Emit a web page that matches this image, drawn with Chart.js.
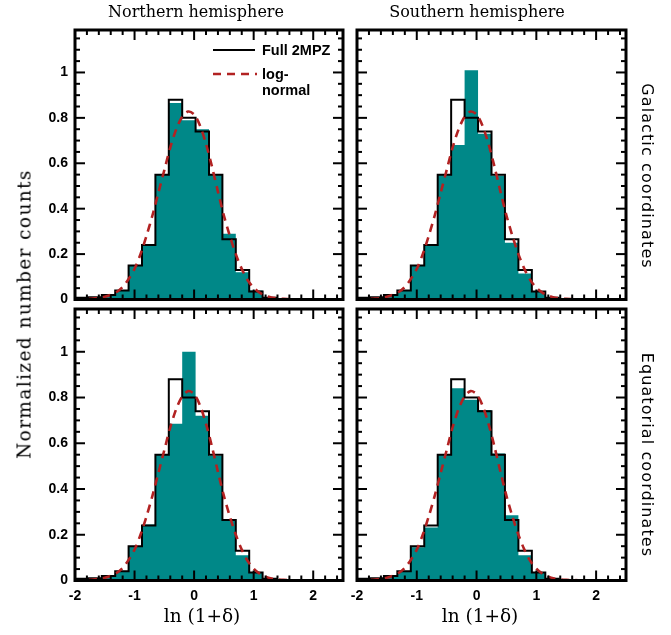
<!DOCTYPE html>
<html>
<head>
<meta charset="utf-8">
<script src="https://cdn.jsdelivr.net/npm/chart.js@4.4.1/dist/chart.umd.min.js"></script>
<style>
  html, body { margin: 0; padding: 0; background: #fff; }
  #wrap { position: relative; width: 671px; height: 635px; overflow: hidden; }
  canvas { position: absolute; left: 0; top: 0; }
  .t { position: absolute; white-space: nowrap; color: #000; }
  .title { font-family: "DejaVu Serif", serif; font-size: 16px; transform: translateX(-50%); top: 2px; }
  .xlab { font-family: "DejaVu Serif", serif; font-size: 18.5px; transform: translateX(-50%); top: 605px; }
  .ylab { font-family: "DejaVu Serif", serif; font-size: 18.5px; letter-spacing: 1.4px; left: 24px; top: 314px; transform: translate(-50%, -50%) rotate(-90deg); }
  .rlab { font-family: "DejaVu Sans", sans-serif; font-size: 16px; letter-spacing: 1.1px; left: 647px; transform: translate(-50%, -50%) rotate(90deg); }
  .leg { font-family: "Liberation Sans", Arial, sans-serif; font-weight: bold; font-size: 14.5px; line-height: 16px; }
</style>
</head>
<body>
<div id="wrap">
  <canvas id="cTL" width="671" height="635"></canvas>
  <canvas id="cTR" width="671" height="635"></canvas>
  <canvas id="cBL" width="671" height="635"></canvas>
  <canvas id="cBR" width="671" height="635"></canvas>

  <div class="t title" style="left:196px;">Northern hemisphere</div>
  <div class="t title" style="left:477px;">Southern hemisphere</div>
  <div class="t xlab" style="left:202px;">ln (1+δ)</div>
  <div class="t xlab" style="left:480px;">ln (1+δ)</div>
  <div class="t ylab">Normalized number counts</div>
  <div class="t rlab" style="top:176px;">Galactic coordinates</div>
  <div class="t rlab" style="top:455px;">Equatorial coordinates</div>

  <!-- legend -->
  <div style="position:absolute; left:213px; top:49px; width:42px; height:0; border-top:2px solid #000;"></div>
  <div class="t leg" style="left:262px; top:42px;">Full 2MPZ</div>
  <svg style="position:absolute; left:211px; top:70px;" width="48" height="8">
    <line x1="2" y1="4" x2="46" y2="4" stroke="#B22222" stroke-width="2.6" stroke-dasharray="8,6"/>
  </svg>
  <div class="t leg" style="left:262px; top:66px;">log-<br>normal</div>
</div>

<script>
// ---- data ----
const binEdges = [-2.0, -1.775, -1.55, -1.325, -1.1, -0.875, -0.65, -0.425, -0.2, 0.025,
                  0.25, 0.475, 0.7, 0.925, 1.15, 1.375, 1.6, 1.825, 2.05, 2.275, 2.5];

// Full 2MPZ (black outline, same in all panels)
const fullCounts = [0.008, 0.010, 0.020, 0.040, 0.150, 0.240, 0.550, 0.880, 0.800, 0.740,
                    0.550, 0.265, 0.130, 0.035, 0.008, 0.002, 0, 0, 0, 0];

// teal histograms
const northGalactic   = [0.006, 0.010, 0.020, 0.042, 0.150, 0.240, 0.550, 0.865, 0.790, 0.750,
                         0.550, 0.290, 0.120, 0.040, 0.010, 0.002, 0, 0, 0, 0];
const southGalactic   = [0.006, 0.010, 0.020, 0.040, 0.150, 0.240, 0.550, 0.680, 1.010, 0.730,
                         0.545, 0.250, 0.115, 0.035, 0.010, 0.002, 0, 0, 0, 0];
const northEquatorial = [0.006, 0.010, 0.020, 0.040, 0.150, 0.245, 0.550, 0.685, 1.000, 0.720,
                         0.545, 0.260, 0.110, 0.035, 0.010, 0.002, 0, 0, 0, 0];
const southEquatorial = [0.006, 0.010, 0.020, 0.042, 0.145, 0.232, 0.550, 0.840, 0.790, 0.745,
                         0.555, 0.285, 0.110, 0.035, 0.010, 0.002, 0, 0, 0, 0];

// log-normal curve (red dashed)
const lognormX = [-2.0, -1.9, -1.8, -1.7, -1.6, -1.5, -1.4, -1.3, -1.2, -1.1, -1.0, -0.9, -0.8,
                  -0.7, -0.6, -0.5, -0.4, -0.3, -0.2, -0.1, 0.0, 0.1, 0.2, 0.3, 0.4, 0.5, 0.6,
                  0.7, 0.8, 0.9, 1.0, 1.1, 1.2, 1.3, 1.4, 1.5, 1.6, 1.7, 1.8];
const lognormY = [0.000, 0.001, 0.002, 0.004, 0.007, 0.012, 0.020, 0.033, 0.055, 0.090, 0.135,
                  0.200, 0.280, 0.370, 0.470, 0.570, 0.670, 0.750, 0.805, 0.828, 0.815, 0.765,
                  0.685, 0.585, 0.475, 0.370, 0.280, 0.200, 0.135, 0.085, 0.052, 0.030, 0.017,
                  0.009, 0.005, 0.003, 0.002, 0.001, 0.000];

// axis ticks
const xTickLabels = [-2, -1, 0, 1, 2];
const yTickLabels = [0, 0.2, 0.4, 0.6, 0.8, 1];
const X_MIN = -2, X_MAX = 2.5, Y_MIN = 0, Y_MAX = 1.187;
const X_MINOR_STEP = 0.2, Y_MINOR_STEP = 0.05;

const TEAL = '#008888';
const RED = '#B22222';

function histPoints(vals) {
  return binEdges.map((e, i) => ({ x: e, y: vals[Math.min(i, vals.length - 1)] }));
}

const framePlugin = {
  id: 'frameTicks',
  afterDatasetsDraw(chart) {
    const { ctx, chartArea: a, scales } = chart;
    const xs = scales.x, ys = scales.y;
    ctx.save();
    ctx.strokeStyle = '#000';
    ctx.lineCap = 'butt';
    ctx.lineWidth = 2;
    const seg = (x1, y1, x2, y2) => { ctx.beginPath(); ctx.moveTo(x1, y1); ctx.lineTo(x2, y2); ctx.stroke(); };
    const nx = Math.round((X_MAX - X_MIN) / X_MINOR_STEP);
    for (let i = 1; i <= nx; i++) {
      const v = X_MIN + i * X_MINOR_STEP;
      if (v >= X_MAX - 1e-9) break;
      const major = xTickLabels.some(t => Math.abs(t - v) < 1e-6);
      const len = major ? 10 : 5;
      const px = xs.getPixelForValue(v);
      seg(px, a.bottom, px, a.bottom - len);
      seg(px, a.top, px, a.top + len);
    }
    const ny = Math.round((Y_MAX - Y_MIN) / Y_MINOR_STEP);
    for (let i = 1; i <= ny; i++) {
      const v = Y_MIN + i * Y_MINOR_STEP;
      if (v >= Y_MAX - 1e-9) break;
      const major = yTickLabels.some(t => Math.abs(t - v) < 1e-6);
      const len = major ? 10 : 5;
      const py = ys.getPixelForValue(v);
      seg(a.left, py, a.left + len, py);
      seg(a.right, py, a.right - len, py);
    }
    ctx.lineWidth = 3;
    ctx.strokeRect(a.left, a.top, a.right - a.left, a.bottom - a.top);
    ctx.restore();
  }
};

const tickFont = { family: '"Liberation Sans", Arial, sans-serif', size: 14, weight: 'bold' };

function makePanel(id, teal, pos) {
  const left = pos.col === 0, bottom = pos.row === 1;
  const area = {
    left: left ? 75 : 357,
    right: left ? 343 : 626,
    top: pos.row === 0 ? 30 : 309,
    bottom: pos.row === 0 ? 299.5 : 580.5
  };
  const xAxisH = 22;
  new Chart(document.getElementById(id), {
    type: 'line',
    data: {
      datasets: [
        {
          label: 'log-normal',
          data: lognormX.map((x, i) => ({ x, y: lognormY[i] })),
          borderColor: RED, borderWidth: 2.6, borderDash: [8, 6],
          pointRadius: 0, fill: false, tension: 0.3, order: 0
        },
        {
          label: 'Full 2MPZ',
          data: histPoints(fullCounts),
          stepped: 'before', borderColor: '#000', borderWidth: 2,
          pointRadius: 0, fill: false, order: 1
        },
        {
          label: 'subsample',
          data: histPoints(teal),
          stepped: 'before', borderColor: TEAL, borderWidth: 0,
          backgroundColor: TEAL, pointRadius: 0, fill: 'origin', order: 2
        }
      ]
    },
    options: {
      responsive: false,
      animation: false,
      events: [],
      layout: {
        padding: {
          left: left ? 0 : area.left,
          right: 671 - area.right,
          top: area.top,
          bottom: bottom ? 635 - area.bottom - xAxisH : 635 - area.bottom
        }
      },
      plugins: { legend: { display: false }, tooltip: { enabled: false } },
      scales: {
        x: {
          type: 'linear', min: X_MIN, max: X_MAX,
          display: bottom,
          grid: { display: false, drawTicks: false },
          border: { display: false },
          afterFit: s => { s.height = bottom ? xAxisH : 0; },
          afterBuildTicks: s => { s.ticks = xTickLabels.map(v => ({ value: v })); },
          ticks: { font: tickFont, color: '#000', padding: 7, maxRotation: 0, autoSkip: false,
                   callback: v => String(v) }
        },
        y: {
          type: 'linear', min: Y_MIN, max: Y_MAX,
          display: left,
          grid: { display: false, drawTicks: false },
          border: { display: false },
          afterFit: s => { s.width = left ? 75 : 0; },
          afterBuildTicks: s => { s.ticks = yTickLabels.map(v => ({ value: v })); },
          ticks: { font: tickFont, color: '#000', padding: 7, autoSkip: false,
                   callback: v => String(v) }
        }
      }
    },
    plugins: [framePlugin]
  });
}

makePanel('cTL', northGalactic,   { row: 0, col: 0 });
makePanel('cTR', southGalactic,   { row: 0, col: 1 });
makePanel('cBL', northEquatorial, { row: 1, col: 0 });
makePanel('cBR', southEquatorial, { row: 1, col: 1 });
</script>
</body>
</html>
